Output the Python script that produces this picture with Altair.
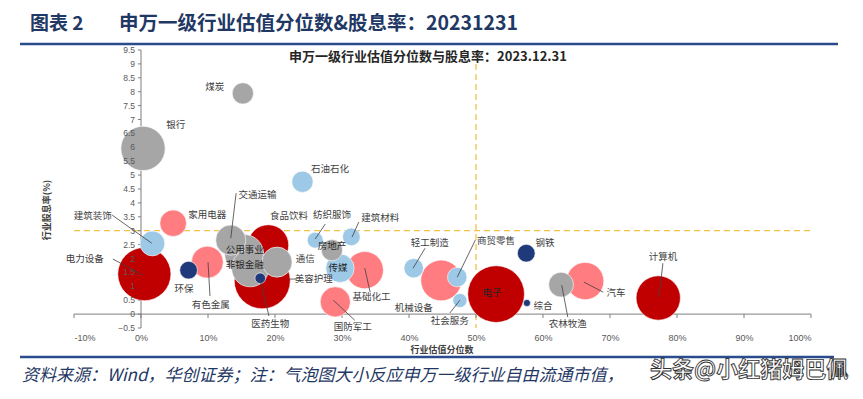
import math
import altair as alt
import pandas as pd

# ---------------- data ----------------
industries = ["银行", "煤炭", "石油石化", "家用电器", "建筑装饰", "电力设备", "环保", "有色金属",
              "交通运输", "公用事业", "非银金融", "通信", "食品饮料", "医药生物", "美容护理",
              "纺织服饰", "建筑材料", "房地产", "传媒", "基础化工", "国防军工", "轻工制造",
              "机械设备", "商贸零售", "社会服务", "电子", "钢铁", "综合", "农林牧渔", "汽车", "计算机"]
valuation_pct = [0.3, 15.2, 24.1, 4.8, 1.7, 0.5, 7.1, 9.9,
                 13.4, 15.4, 16.3, 20.3, 19.0, 18.1, 17.8,
                 26.0, 31.4, 28.5, 29.7, 33.4, 29.0, 40.7,
                 44.8, 47.2, 47.6, 53.0, 57.5, 57.6, 62.7, 66.3, 77.2]
dividend_yield = [5.96, 7.94, 4.76, 3.27, 2.54, 1.44, 1.58, 1.87,
                  2.66, 2.16, 1.65, 1.87, 2.48, 1.20, 1.29,
                  2.66, 2.78, 2.30, 1.65, 1.58, 0.44, 1.65,
                  1.21, 1.33, 0.49, 0.72, 2.19, 0.40, 1.06, 1.19, 0.58]
float_cap = [625, 144, 144, 225, 196, 900, 100, 324,
             289, 484, 441, 289, 530, 1000, 36,
             81, 100, 144, 256, 441, 289, 121,
             529, 121, 64, 1024, 100, 16, 196, 441, 625]
color_group = ["灰", "灰", "浅蓝", "浅红", "浅蓝", "深红", "深蓝", "浅红",
               "灰", "灰", "灰", "灰", "深红", "深红", "深蓝",
               "浅蓝", "浅蓝", "灰", "浅蓝", "浅红", "浅红", "浅蓝",
               "浅红", "浅蓝", "浅蓝", "深红", "深蓝", "深蓝", "灰", "浅红", "深红"]

# data-label anchors (in data units)
label_x = [5.2, 11.0, 28.2, 9.9, -7.2, -8.4, 6.4, 10.4,
           17.4, 15.5, 15.5, 24.5, 22.1, 19.3, 25.8,
           28.5, 35.7, 28.5, 29.4, 34.4, 31.6, 43.1,
           40.7, 53.0, 46.1, 52.4, 60.3, 60.0, 63.7, 70.9, 77.9]
label_y = [6.80, 8.16, 5.22, 3.56, 3.53, 1.98, 0.90, 0.32,
           4.28, 2.30, 1.76, 1.98, 3.53, -0.36, 1.26,
           3.56, 3.45, 2.45, 1.65, 0.61, -0.47, 2.55,
           0.22, 2.63, -0.25, 0.76, 2.55, 0.29, -0.36, 0.76, 2.05]
inside_labels = ["公用事业", "非银金融", "房地产", "传媒", "电子"]

# leader lines (label side -> bubble)
leader_names = ["建筑装饰", "电力设备", "交通运输", "有色金属", "医药生物", "美容护理", "纺织服饰",
                "建筑材料", "基础化工", "国防军工", "轻工制造", "商贸零售", "社会服务", "农林牧渔",
                "汽车", "计算机"]
leader_x1 = [-4.3, -4.2, 14.2, 10.3, 19.1, 23.3, 27.5, 32.5, 34.2, 31.9, 42.4, 49.9, 46.1, 63.7, 69.0, 77.9]
leader_y1 = [3.56, 1.98, 4.35, 0.65, -0.07, 1.26, 3.24, 3.31, 0.79, -0.22, 2.37, 2.66, 0.04, -0.11, 0.79, 1.83]
leader_x2 = [1.6, 0.3, 13.4, 10.0, 17.8, 22.1, 26.0, 31.5, 33.4, 28.7, 40.6, 47.2, 47.6, 62.8, 66.1, 77.3]
leader_y2 = [2.55, 1.40, 2.73, 1.87, 1.22, 1.26, 2.70, 2.77, 1.65, 0.50, 1.65, 1.33, 0.50, 1.04, 1.15, 0.61]

x_ticks = [-10, 0, 10, 20, 30, 40, 50, 60, 70, 80, 90, 100]
y_ticks = [-0.5, 0, 0.5, 1, 1.5, 2, 2.5, 3, 3.5, 4, 4.5, 5, 5.5, 6, 6.5, 7, 7.5, 8, 8.5, 9, 9.5]
yield_ref = 3
pct_ref = 50

title_tag = "图表 2"
main_title = "申万一级行业估值分位数&股息率：20231231"
inner_title = "申万一级行业估值分位数与股息率：2023.12.31"
x_title = "行业估值分位数"
y_title = "行业股息率(%)"
footer = "资料来源：Wind，华创证券；注：气泡图大小反应申万一级行业自由流通市值，"
watermark = "头条@小红猪姆巴佩"

group_order = ["深红", "浅红", "浅蓝", "灰", "深蓝"]
group_colors = ["#C00000", "#FF7C80", "#9DC8E6", "#A6A6A6", "#1F3A7A"]

# ---------------- layout ----------------
W, H = 737, 278
XMIN, XMAX = -10, 100
YMIN, YMAX = -0.5, 9.5
FONT = "Noto Sans CJK SC"

df = pd.DataFrame({
    "name": industries, "pct": valuation_pct, "dy": dividend_yield,
    "cap": float_cap, "grp": color_group, "lx": label_x, "ly": label_y,
})
df["inside"] = df["name"].isin(inside_labels)
lead = pd.DataFrame({"name": leader_names, "x1": leader_x1, "y1": leader_y1,
                     "x2": leader_x2, "y2": leader_y2})
xt_df = pd.DataFrame({"t": x_ticks})
yt_df = pd.DataFrame({"t": y_ticks})
one = pd.DataFrame({"v": [0]})

xs = alt.Scale(domain=[XMIN, XMAX], nice=False, zero=False)
ys = alt.Scale(domain=[YMIN, YMAX], nice=False, zero=False)

xaxis = alt.Axis(values=x_ticks, labelExpr="datum.value + '%'", title=None, domain=False,
                 ticks=False, grid=False, labelPadding=5, labelFontSize=9,
                 labelColor="#595959", labelFont="Liberation Sans", labelOverlap=False)

bubbles = alt.Chart(df).mark_circle(opacity=1, stroke="white", strokeWidth=0.6).encode(
    x=alt.X("pct:Q", scale=xs, axis=xaxis),
    y=alt.Y("dy:Q", scale=ys, axis=None),
    size=alt.Size("cap:Q", scale=alt.Scale(type="linear", domain=[0, 1024],
                                           range=[0, math.pi * 32 * 32]), legend=None),
    color=alt.Color("grp:N", scale=alt.Scale(domain=group_order, range=group_colors), legend=None),
    order=alt.Order("cap:Q", sort="descending"),
)

# axis lines crossing at (0%, 0)
xline = alt.Chart(one).mark_rule(color="#7F7F7F", strokeWidth=1).encode(
    x=alt.datum(XMIN), x2=alt.datum(XMAX), y=alt.datum(0))
xticks_m = alt.Chart(xt_df).transform_calculate(y0="0", y1="-0.14").mark_rule(
    color="#7F7F7F", strokeWidth=1).encode(x="t:Q", y="y0:Q", y2="y1:Q")
yline = alt.Chart(one).mark_rule(color="#7F7F7F", strokeWidth=1).encode(
    x=alt.datum(0), y=alt.datum(YMIN), y2=alt.datum(YMAX))
yticks_m = alt.Chart(yt_df).transform_calculate(x0="0", x1="-0.45").mark_rule(
    color="#7F7F7F", strokeWidth=1).encode(x="x0:Q", x2="x1:Q", y="t:Q")
ylabels = alt.Chart(yt_df).transform_calculate(x0="0").mark_text(
    font="Liberation Sans", fontSize=8.5, color="#595959", align="right",
    baseline="middle", dx=-6).encode(x="x0:Q", y="t:Q", text=alt.Text("t:Q", format=".1~f"))

hdash = alt.Chart(one).mark_rule(color="#F2C34A", strokeWidth=1.3, strokeDash=[6, 4]).encode(
    x=alt.datum(XMIN), x2=alt.datum(XMAX), y=alt.datum(yield_ref))
vdash = alt.Chart(one).mark_rule(color="#F2C34A", strokeWidth=1.3, strokeDash=[6, 4]).encode(
    x=alt.datum(pct_ref), y=alt.datum(9), y2=alt.datum(YMIN))

leaders = alt.Chart(lead).mark_rule(color="#404040", strokeWidth=0.8).encode(
    x="x1:Q", y="y1:Q", x2="x2:Q", y2="y2:Q")

labels_out = alt.Chart(df).transform_filter("!datum.inside").mark_text(
    font=FONT, fontSize=9.5, color="#404040", align="center", baseline="middle").encode(
    x="lx:Q", y="ly:Q", text="name:N")
labels_in = alt.Chart(df).transform_filter("datum.inside").mark_text(
    font=FONT, fontSize=9.5, color="#262626", align="center", baseline="middle").encode(
    x="lx:Q", y="ly:Q", text="name:N")


def txt(s, x, y, **kw):
    return alt.Chart(pd.DataFrame({"s": [s]})).mark_text(**kw).encode(
        x=alt.value(x), y=alt.value(y), text="s:N")


t_tag = txt(title_tag, -44, -26, font=FONT, fontSize=19, fontWeight="bold",
            color="#1F3864", align="left", baseline="middle")
t_main = txt(main_title, 45, -26, font=FONT, fontSize=19.5, fontWeight="bold",
             color="#1F3864", align="left", baseline="middle")
t_inner = txt(inner_title, 354, 7, font=FONT, fontSize=13, fontWeight="bold",
              color="#262626", align="center", baseline="middle")
t_x = txt(x_title, 368, 300, font=FONT, fontSize=9, fontWeight="bold",
          color="#404040", align="center", baseline="middle")
t_y = txt(y_title, -27, 160, font=FONT, fontSize=9, fontWeight="bold", angle=270,
          color="#404040", align="center", baseline="middle")
t_foot = txt(footer, -52, 326, font=FONT, fontSize=17, fontStyle="italic",
             color="#1F3864", align="left", baseline="middle")
t_wm = txt(watermark, 576, 320, font=FONT, fontSize=22, fontWeight="bold",
           color="white", stroke="#333333", strokeWidth=0.9, align="left", baseline="middle")

top_line = alt.Chart(one).mark_rule(color="#2B4C8C", strokeWidth=2.5).encode(
    x=alt.value(-54), x2=alt.value(764), y=alt.value(-6))
bot_line = alt.Chart(one).mark_rule(color="#2B4C8C", strokeWidth=2.5).encode(
    x=alt.value(-54), x2=alt.value(760), y=alt.value(307))

chart = alt.layer(
    hdash, vdash, xline, xticks_m, yline, yticks_m, bubbles, ylabels, leaders,
    labels_out, labels_in,
    t_tag, t_main, top_line, t_inner, t_x, t_y, bot_line, t_foot, t_wm,
).properties(
    width=W, height=H,
    padding={"left": 66, "top": 42, "right": 44, "bottom": 63},
    autosize="none",
    background="white",
).configure_view(stroke=None).configure_axisY(
    domain=False, ticks=False, labels=False, grid=False, title=None,
)

chart.save("out.html", embed_options={"renderer": "svg", "actions": False})
